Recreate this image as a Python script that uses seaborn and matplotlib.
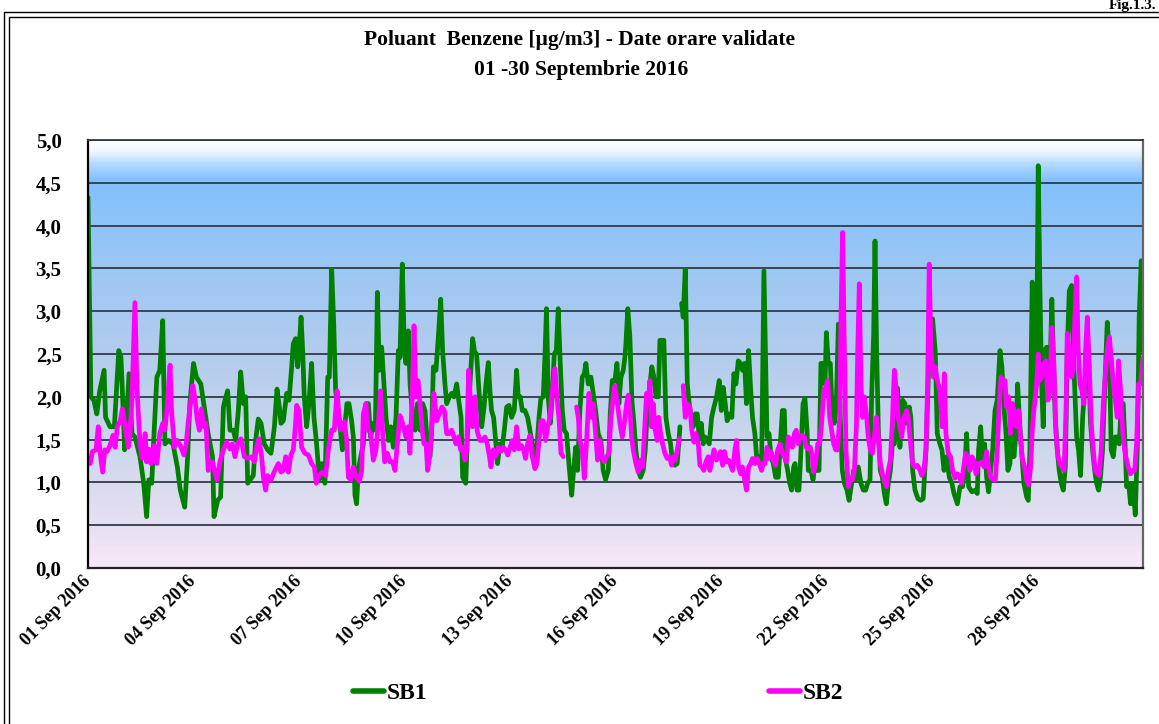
import numpy as np
import pandas as pd
import matplotlib
matplotlib.use("Agg")
import matplotlib.pyplot as plt
import matplotlib.dates as mdates
from matplotlib.colors import LinearSegmentedColormap
from matplotlib.lines import Line2D
import seaborn as sns

# ---------------- data ----------------
title_line1 = "Poluant  Benzene [µg/m3] - Date orare validate"
title_line2 = "01 -30 Septembrie 2016"
fig_label = "Fig.1.3."
series_names = ["SB1", "SB2"]
series_colors = ["#008000", "#FF00FF"]
start_date = "2016-09-01"
n_days = 30
tick_days = [1, 4, 7, 10, 13, 16, 19, 22, 25, 28]
y_ticks = [0.0, 0.5, 1.0, 1.5, 2.0, 2.5, 3.0, 3.5, 4.0, 4.5, 5.0]

# (hour since 01 Sep 00:00, µg/m3); None marks a gap in the record
sb1 = [
    (0, 4.33), (2, 2.0), (4, 1.96), (6, 1.80), (8, 2.07), (11, 2.31), (12, 1.76), (15, 1.65),
    (18, 1.65), (21, 2.54), (22.5, 2.46), (24, 1.84), (25, 1.38), (26, 1.65), (28, 2.27),
    (30, 1.57), (32, 1.53), (35.5, 1.30), (38, 0.99), (40, 0.60), (41.5, 1.03), (43.5, 0.99),
    (44.5, 1.38), (47, 2.23), (49, 2.31), (51, 2.89), (52.5, 1.45), (55, 1.49), (58, 1.45),
    (61, 1.18), (63, 0.91), (66, 0.71), (68, 1.30), (69.5, 1.92), (72, 2.39), (74, 2.23),
    (77, 2.15), (79, 1.92), (82, 1.57), (85, 1.30), (86, 0.60), (88.5, 0.79), (90.5, 0.83),
    (92.4, 1.88), (93.5, 1.96), (95.3, 2.07), (96.9, 1.61), (99.2, 1.61), (100.8, 1.49),
    (102.6, 1.84), (104.2, 2.29), (106, 1.92), (107.6, 2.0), (109, 0.99), (110.6, 1.03),
    (112.8, 1.08), (114.4, 1.49), (116.2, 1.74), (118.1, 1.69), (120.3, 1.45), (122.6, 1.38),
    (124.9, 1.34), (127.2, 1.65), (129, 2.09), (130.3, 1.92), (131.7, 1.69), (133.3, 1.72),
    (135.6, 2.04), (137.2, 1.96), (139, 2.35), (140.1, 2.62), (141.7, 2.68), (143.1, 2.35),
    (144, 2.54), (145.4, 2.93), (146.5, 2.54), (147.6, 2.0), (149.2, 1.65), (150.8, 1.92),
    (152.6, 2.39), (154.2, 1.76), (156, 1.45), (157.9, 1.03), (159.5, 1.22), (161.7, 0.99),
    (163.6, 2.23), (164.7, 2.23), (166.3, 3.49), (167.7, 2.85), (169, 2.07), (170.4, 1.88),
    (172, 1.65), (173.6, 1.38), (175.4, 1.69), (176.7, 1.92), (178.1, 1.92), (179.9, 1.72),
    (181.1, 1.53), (182.2, 0.85), (183.3, 0.75), (184.5, 1.14), (186.1, 1.30), (187.9, 1.45),
    (189.7, 1.92), (191.3, 1.92), (192.9, 1.53), (194.7, 1.69), (196.1, 1.61), (197.5, 3.22),
    (198.8, 2.31), (200.4, 2.58), (202, 2.15), (203.4, 1.76), (205, 1.49), (206.6, 1.65),
    (208.4, 1.41), (210.2, 1.76), (211.8, 2.54), (212.9, 2.46), (214.5, 3.55), (215.9, 2.54),
    (217, 2.39), (218.6, 2.77), (219.8, 2.15), (221.6, 1.76), (223.2, 1.61), (224.8, 1.92),
    (226.6, 1.61), (228.4, 1.92), (230, 1.84), (231.6, 1.45), (233.4, 1.30), (234.5, 1.57),
    (235.7, 2.35), (237.5, 2.31), (239.1, 2.70), (240.7, 3.14), (242, 2.54), (243.6, 2.15),
    (244.8, 1.92), (246.6, 2.0), (248.2, 2.04), (249.8, 2.0), (251.6, 2.15), (253, 1.96),
    (254.6, 1.76), (255.7, 1.06), (257.8, 0.99), (258.9, 1.53), (260.7, 2.15), (262.5, 2.68),
    (263.9, 2.52), (265.2, 2.50), (267.1, 2.0), (268.7, 1.65), (270.3, 1.88), (271.6, 2.15),
    (273.2, 2.40), (274.3, 2.07), (275.4, 1.84), (276.8, 1.76), (278.2, 1.49), (279.5, 1.22),
    (281.1, 1.45), (282.7, 1.41), (284.1, 1.61), (285.7, 1.88), (287.3, 1.90), (289.1, 1.76),
    (290.9, 1.84), (292.5, 2.31), (293.6, 2.0), (295, 2.0), (296.4, 1.84), (298.2, 1.84),
    (300, 1.76), (301.6, 1.61), (303.2, 1.45), (304.6, 1.22), (306.2, 1.38), (307.8, 1.76),
    (309.1, 1.98), (310.7, 2.0), (311.8, 2.46), (312.9, 3.03), (314.1, 2.0), (315.5, 1.69),
    (316.8, 2.0), (318.2, 2.50), (319.6, 2.54), (320.9, 3.03), (322.3, 2.39), (323.7, 1.84),
    (325, 1.61), (326.6, 1.57), (328.2, 1.22), (330.1, 0.85), (331.4, 1.14), (332.8, 1.41),
    (334.1, 1.14), (335.7, 1.84), (337.3, 2.23), (338.7, 2.27), (339.8, 2.39), (341.4, 2.15),
    (343.2, 2.23), (344.8, 2.04), (346.4, 1.84), (348.2, 1.57), (350, 1.49), (351.6, 1.14),
    (353.2, 1.03), (355.1, 1.14), (356.4, 1.80), (357.8, 2.19), (359.6, 2.19), (361, 2.39),
    (362.3, 1.92), (363.7, 2.23), (365.3, 2.31), (366.4, 2.46), (367.1, 2.62), (368.4, 3.03),
    (369.8, 2.70), (371.2, 1.96), (372.6, 1.69), (373.9, 1.38), (375.5, 1.14), (377.1, 1.06),
    (378.9, 1.14), (380.3, 1.38), (381.7, 1.84), (383.5, 2.15), (384.8, 2.35), (386.2, 2.23),
    (387.6, 2.0), (389.2, 2.0), (390.3, 2.66), (391.7, 2.66), (393, 2.66), (394.4, 1.76),
    (396, 1.57), (397.6, 1.45), (399, 1.22), (400.5, 1.20), (402.1, 1.22), (403.5, 1.53),
    (404, 1.65), None,
    (405.1, 3.09), (406.2, 2.93), (407.6, 3.49), (409, 2.15), (410.3, 1.92), (411.7, 1.76),
    (413, 1.65), (414.4, 1.80), (415.8, 1.80), (417.1, 1.53), (418.5, 1.69), (419.9, 1.45),
    (421.2, 1.53), (422.6, 1.49), (424, 1.45), (425.6, 1.76), (427.2, 1.88), (429, 2.0),
    (430.8, 2.19), (432.2, 1.84), (433.5, 2.11), (434.9, 1.92), (436.2, 1.72), (438.1, 1.80),
    (439.4, 1.76), (440.8, 2.27), (442.2, 2.15), (443.8, 2.42), (445.4, 2.39), (446.7, 2.31),
    (448.1, 2.39), (449.4, 1.92), (450.8, 2.54), (452.2, 2.10), (453.5, 1.76), (455.1, 1.57),
    (456.3, 1.30), (458.1, 1.30), (459.7, 1.22), (461.3, 3.47), (463.4, 1.53), (464.8, 1.57),
    (466.1, 1.30), (467.7, 1.22), (469.3, 1.06), (471.1, 1.06), (472.5, 1.45), (473.9, 1.84),
    (475.2, 1.84), (476.1, 1.26), (477.5, 1.14), (478.9, 0.99), (480.2, 0.91), (481.6, 1.18),
    (482.5, 1.22), (483.9, 0.91), (485.2, 0.91), (486.6, 1.38), (488, 1.92), (489.3, 1.98),
    (490.7, 1.61), (491.6, 1.14), (493.4, 1.14), (494.8, 1.03), (496.1, 1.22), (497.5, 1.14),
    (498.9, 1.14), (500.2, 2.39), (501.6, 2.39), (503, 2.15), (503.9, 2.75), (505.2, 2.39),
    (506.6, 2.39), (508, 1.76), (509.3, 1.69), (510.7, 1.92), (512.1, 2.85), (513.4, 1.76),
    (514.8, 1.14), (516.2, 0.99), (518, 0.91), (519.4, 0.79), (521.2, 0.99), (522.5, 1.14),
    (523.9, 1.03), (525.7, 1.18), (527.5, 0.99), (529.1, 0.91), (530.7, 0.91), (532.1, 0.99),
    (533.7, 1.03), (534.8, 2.0), (536.2, 2.74), (537.1, 3.82), (538.2, 2.54), (539.4, 1.61),
    (540.7, 1.14), (542.1, 1.06), (543.5, 0.87), (544.8, 0.75), (546.2, 0.99), (547.6, 1.14),
    (548.9, 1.45), (550.3, 1.45), (551.9, 1.65), (552.5, 2.10), (554.1, 1.41), (556, 1.96),
    (557.5, 1.92), (558.7, 1.69), (560.5, 1.88), (561.6, 1.76), (562.8, 1.14), (564.4, 0.91),
    (566.4, 0.81), (568.2, 0.79), (570, 0.81), (571.9, 1.38), (574.1, 2.54), (576.4, 2.91),
    (578.2, 2.54), (579.6, 1.57), (581.4, 1.45), (582.8, 1.38), (584.2, 1.14), (586, 1.30),
    (587.8, 1.06), (589.6, 0.99), (591, 0.87), (593.3, 0.75), (595.1, 0.95), (596.9, 0.95),
    (598.3, 1.14), (599.6, 1.57), (601, 0.95), (603.3, 0.89), (605.5, 0.91), (606.9, 0.87),
    (607.8, 1.38), (609.2, 1.65), (610.5, 1.26), (611.9, 1.45), (613.3, 1.06), (614.6, 0.89),
    (616, 1.14), (617.4, 1.38), (619, 1.84), (620.5, 1.96), (622.4, 2.54), (623.7, 2.35),
    (625.1, 1.88), (626.5, 1.57), (627.8, 1.14), (629.2, 1.22), (630.6, 1.92), (631.9, 1.30),
    (633.3, 1.57), (634.4, 2.15), (636, 1.65), (637.4, 1.30), (638.7, 0.99), (640.6, 0.83),
    (641.7, 0.79), (642.8, 1.38), (644.4, 3.34), (646, 1.92), (647.4, 2.54), (648.5, 4.70),
    (649.6, 3.32), (650.8, 2.15), (651.9, 1.65), (653.1, 2.54), (654.2, 2.58), (655.3, 2.23),
    (656, 2.07), (656.9, 2.54), (657.8, 3.14), (658.7, 2.54), (660.1, 1.76), (661.5, 1.38),
    (662.8, 1.14), (664.2, 0.99), (665.6, 0.91), (667, 1.18), (668.3, 2.54), (669.7, 3.24),
    (671.3, 3.30), (672.4, 2.54), (673.5, 2.07), (674.7, 1.53), (676, 1.38), (677.4, 1.08),
    (678.8, 1.76), (680.1, 2.07), (681.5, 2.54), (682.9, 2.39), (684.2, 1.69), (685.6, 1.38),
    (687, 1.14), (688.3, 0.99), (689.7, 0.91), (691, 1.06), (692.4, 1.38), (694, 2.15),
    (695.6, 2.87), (697, 2.54), (698.3, 1.38), (699.7, 1.30), (701.1, 1.53), (702.4, 1.53),
    (703.8, 1.45), (705.2, 1.92), (706.5, 1.92), (707.9, 1.38), (708.8, 0.95), (710.2, 0.99),
    (711.5, 0.75), (713.3, 0.99), (714.7, 0.62), (716.1, 1.38), (717.4, 2.93), (718.8, 3.59),
    (719.4, 2.54), (720, 2.70),
]

sb2 = [
    (0, 1.26), (1.5, 1.22), (3, 1.36), (5.5, 1.38), (7, 1.65), (8, 1.38), (10, 1.12),
    (11.5, 1.38), (13, 1.36), (15, 1.43), (17, 1.55), (18.5, 1.41), (20, 1.65), (22, 1.72),
    (23.5, 1.86), (25, 1.69), (27.5, 1.41), (28.5, 1.53), (30, 1.96), (32, 3.10), (33.5, 2.07),
    (35.5, 1.45), (37, 1.28), (39, 1.57), (40, 1.24), (41.5, 1.39), (43, 1.22), (45, 1.43),
    (47, 1.22), (49, 1.57), (51, 1.69), (52.5, 1.61), (54, 1.88), (56, 2.37), (57, 1.84),
    (59, 1.41), (61, 1.49), (63, 1.43), (65.5, 1.32), (67, 1.45), (68.5, 1.72), (70, 1.92),
    (71.5, 2.13), (73, 1.98), (74.5, 1.74), (76, 1.61), (77.5, 1.86), (79, 1.65), (80.5, 1.69),
    (82, 1.14), (83.5, 1.24), (85, 1.24), (86.5, 1.12), (88, 1.03), (90, 1.24), (92.4, 1.38),
    (94.6, 1.47), (96.9, 1.39), (98.5, 1.45), (100.3, 1.30), (102.1, 1.45), (104.4, 1.51),
    (106.7, 1.30), (109, 1.28), (111.7, 1.30), (113.5, 1.24), (115.1, 1.41), (116.7, 1.51),
    (118.5, 1.30), (119.7, 1.06), (121.2, 0.91), (122.6, 1.08), (124.9, 1.03), (126.5, 1.10),
    (128.1, 1.16), (129.9, 1.22), (131.7, 1.12), (133.3, 1.14), (134.9, 1.30), (136.7, 1.12),
    (138.5, 1.32), (140.1, 1.38), (141.3, 1.61), (142.4, 1.90), (144, 1.84), (145.8, 1.41),
    (148, 1.34), (150.4, 1.32), (152.6, 1.22), (154.5, 1.18), (155.8, 0.99), (157.6, 1.08),
    (159.9, 1.12), (162.2, 1.08), (164, 1.38), (166.3, 1.61), (168.1, 1.61), (170, 2.07),
    (171.3, 1.76), (172.7, 1.61), (175, 1.71), (176.5, 1.49), (177.7, 1.06), (179.5, 1.03),
    (181.1, 1.18), (183.3, 1.06), (185.2, 1.01), (186.8, 1.14), (187.9, 1.80), (189.7, 1.92),
    (191.3, 1.61), (192.9, 1.57), (194.7, 1.26), (196.5, 1.38), (198.1, 1.69), (199.7, 2.07),
    (201.1, 1.57), (202.5, 1.24), (204.3, 1.34), (206.1, 1.24), (207.9, 1.24), (209.5, 1.14),
    (211.1, 1.45), (212.9, 1.78), (214.7, 1.69), (217, 1.53), (218.6, 1.65), (219.7, 1.34),
    (221.1, 1.92), (222.5, 2.83), (223.8, 2.0), (225.2, 2.19), (226.6, 1.92), (228.1, 1.61),
    (229.3, 1.45), (230.7, 1.45), (231.8, 1.14), (233.4, 1.34), (234.8, 1.69), (236.1, 2.04),
    (237.9, 1.72), (239.7, 1.80), (241.6, 1.88), (243.2, 1.84), (244.8, 1.57), (246.6, 1.57),
    (248.2, 1.61), (249.8, 1.53), (251.1, 1.45), (252.7, 1.53), (254.3, 1.38), (255.7, 1.41),
    (257.3, 1.26), (258.4, 1.38), (259.8, 2.31), (261.1, 1.92), (262.5, 1.65), (264.1, 2.0),
    (265.7, 1.59), (267.5, 1.49), (269.3, 1.49), (270.9, 1.53), (272.5, 1.45), (274, 1.30),
    (275, 1.18), (276.6, 1.38), (278.2, 1.30), (280, 1.41), (281.6, 1.36), (283.4, 1.41),
    (285, 1.38), (286.4, 1.32), (288, 1.41), (289.6, 1.49), (290.9, 1.38), (292.5, 1.65),
    (294.1, 1.39), (295.9, 1.43), (297.3, 1.38), (298.6, 1.28), (300, 1.45), (301.6, 1.55),
    (303.2, 1.30), (305, 1.16), (306.4, 1.22), (307.8, 1.49), (309.1, 1.72), (310.7, 1.72),
    (312.3, 1.49), (313.7, 1.65), (315.3, 1.76), (316.9, 2.07), (318.7, 2.33), (320, 2.0),
    (321.4, 1.76), (322.8, 1.34), (324.4, 1.30), None,
    (333.4, 1.88), (334.6, 1.76), (335.7, 1.49), (337.3, 1.38), (338.7, 1.05), (340.3, 1.49),
    (341.9, 2.04), (343.2, 1.76), (344.8, 1.92), (346.4, 1.57), (347.8, 1.26), (349.4, 1.49),
    (350.5, 1.30), (352.3, 1.24), (353.9, 1.30), (355.5, 1.34), (356.9, 1.76), (358.5, 2.0),
    (359.6, 2.13), (361.4, 1.92), (363, 1.69), (364.6, 1.53), (366, 1.69), (367.6, 1.92),
    (368.7, 2.02), (369.9, 1.84), (371, 1.53), (372.1, 1.38), (373.9, 1.22), (375.5, 1.12),
    (377.1, 1.26), (378.5, 1.18), (380.1, 1.69), (381.2, 2.04), (382.3, 1.92), (383.5, 2.19),
    (384.6, 1.65), (385.7, 1.92), (387.1, 1.61), (388.5, 1.49), (389.4, 1.76), (390.8, 1.57),
    (392.1, 1.45), (393.7, 1.34), (395.3, 1.28), (396.7, 1.30), (398.3, 1.20), (399.4, 1.30),
    (400.8, 1.26), (402.1, 1.38), (403.5, 1.51), None,
    (406.2, 2.13), (407.6, 1.76), (409, 1.92), (410.8, 1.88), (412.1, 1.61), (413.5, 1.47),
    (414.9, 1.57), (416.5, 1.45), (417.6, 1.20), (419, 1.18), (420.3, 1.14), (421.7, 1.24),
    (423.3, 1.30), (424.4, 1.14), (425.8, 1.26), (427.2, 1.38), (429, 1.26), (430.3, 1.30),
    (431.7, 1.36), (433.1, 1.20), (434.4, 1.36), (435.8, 1.24), (437.2, 1.26), (438.5, 1.20),
    (439.9, 1.14), (441.5, 1.38), (442.6, 1.49), (444, 1.18), (445.4, 1.10), (446.7, 1.18),
    (448.1, 1.03), (449.4, 0.91), (450.8, 1.18), (452.2, 1.22), (453.5, 1.28), (455.1, 1.22),
    (456.7, 1.28), (458.1, 1.22), (459.7, 1.14), (460.8, 1.22), (462, 1.22), (463.4, 1.41),
    (464.8, 1.28), (466.1, 1.36), (467.7, 1.26), (469.3, 1.20), (470.7, 1.38), (472.3, 1.45),
    (473.9, 1.34), (475.2, 1.30), (476.6, 1.24), (478, 1.53), (479.3, 1.49), (480.7, 1.41),
    (482.1, 1.57), (483.4, 1.61), (484.8, 1.45), (486.1, 1.53), (487.5, 1.55), (488.9, 1.53),
    (490.2, 1.41), (491.6, 1.39), (493, 1.41), (494.3, 1.30), (495.2, 1.12), (496.6, 1.22),
    (498, 1.45), (499.3, 1.45), (500.7, 1.69), (502.1, 2.07), (503.4, 2.11), (504.8, 2.19),
    (506.2, 1.76), (507.5, 1.61), (508.9, 1.45), (510.3, 1.38), (511.6, 1.38), (513, 1.76),
    (513.9, 2.93), (515, 3.92), (516.2, 2.54), (517.3, 1.38), (518.9, 0.95), (520.3, 1.03),
    (521.6, 1.03), (523, 1.14), (524.4, 1.65), (525.3, 2.54), (526.4, 3.32), (527.5, 2.15),
    (528.7, 1.76), (529.8, 2.0), (531.2, 1.80), (532.5, 1.53), (533.9, 1.38), (535.3, 1.34),
    (536.6, 1.53), (538, 1.76), (539.4, 1.53), (540.7, 1.22), (542.1, 1.10), (543.5, 1.03),
    (544.8, 0.95), (546.2, 1.14), (547.6, 1.26), (548.9, 1.69), (550.3, 2.31), (551.7, 2.07),
    (553, 1.76), (554.1, 1.65), (555.3, 1.53), (556.9, 1.76), (558.7, 1.84), (559.8, 1.76),
    (561.4, 1.45), (562.8, 1.22), (564.4, 1.18), (566, 1.20), (567.8, 1.14), (569.1, 1.08),
    (570.5, 1.14), (571.9, 1.38), (573, 2.15), (574.1, 3.55), (575.3, 2.54), (576.9, 2.23),
    (578.2, 2.35), (579.6, 2.19), (581.4, 2.07), (583, 1.65), (584.4, 2.27), (585.5, 1.57),
    (587.1, 1.34), (588.7, 1.30), (590.1, 1.14), (591.7, 1.05), (593.3, 1.10), (594.6, 1.08),
    (596.2, 0.99), (597.3, 1.14), (598.9, 1.34), (600.3, 1.30), (601.9, 1.14), (603.3, 1.30),
    (604.6, 1.26), (606, 1.10), (607.4, 1.22), (608.7, 1.22), (610.1, 1.24), (611.5, 1.18),
    (613.3, 1.36), (614.6, 1.18), (616, 1.06), (617.9, 1.03), (619.2, 1.03), (620.6, 1.38),
    (621.9, 1.92), (623.1, 2.23), (624.2, 2.15), (625.8, 2.19), (626.9, 1.88), (628.3, 2.0),
    (629.7, 1.57), (631, 1.92), (632.4, 1.80), (633.7, 1.65), (635.1, 1.84), (636.5, 1.49),
    (637.8, 1.26), (639.2, 1.18), (640.6, 1.03), (641.9, 0.97), (643.3, 1.18), (644.7, 1.69),
    (646, 1.92), (647.4, 2.15), (648.5, 2.50), (649.6, 2.19), (650.8, 2.23), (652.4, 2.39),
    (653.7, 2.42), (655.1, 1.96), (656.5, 2.07), (657.8, 2.81), (659.2, 2.39), (660.6, 1.57),
    (662, 1.30), (663.3, 1.22), (664.7, 1.18), (666.1, 1.14), (667.4, 1.76), (668.3, 2.74),
    (669.7, 2.54), (671.3, 2.23), (672.4, 2.33), (673.5, 2.93), (674.7, 3.40), (675.8, 2.54),
    (677, 2.15), (678.3, 2.07), (679.7, 1.92), (680.8, 2.54), (682, 2.93), (683.3, 2.39),
    (684.7, 1.69), (686, 1.38), (687.4, 1.14), (688.8, 1.10), (690.1, 1.08), (691.5, 1.38),
    (692.9, 1.92), (694.2, 2.23), (695.6, 2.54), (697, 2.70), (698.3, 2.46), (699.7, 2.15),
    (701.1, 1.96), (702.4, 1.76), (703.3, 2.42), (704.7, 2.07), (706.1, 1.61), (707.4, 1.38),
    (708.8, 1.26), (710.2, 1.16), (711.5, 1.10), (712.9, 1.14), (714.3, 1.14), (715.6, 1.45),
    (717, 2.15), (718.4, 2.15), (720, 2.46),
]


def to_frame(points, name):
    rows, seg = [], 0
    for p in points:
        if p is None:
            seg += 1
            continue
        rows.append((p[0], p[1], seg))
    df = pd.DataFrame(rows, columns=["hour", "value", "segment"])
    df["time"] = pd.Timestamp(start_date) + pd.to_timedelta(df["hour"], unit="h")
    df["series"] = name
    return df


frames = [to_frame(sb1, series_names[0]), to_frame(sb2, series_names[1])]

# ---------------- style ----------------
sns.set_theme(style="white")
plt.rcParams["font.family"] = ["Liberation Serif", "DejaVu Serif"]
plt.rcParams["font.weight"] = "bold"
plt.rcParams["text.color"] = "black"
plt.rcParams["xtick.color"] = "black"
plt.rcParams["ytick.color"] = "black"
plt.rcParams["xtick.labelcolor"] = "black"
plt.rcParams["ytick.labelcolor"] = "black"

W, H = 1159, 724
fig = plt.figure(figsize=(W / 100, H / 100), dpi=100)
fig.patch.set_facecolor("white")

L, R, T, B = 88, 1143, 140, 568
rect = [L / W, 1 - B / H, (R - L) / W, (B - T) / H]

# gradient background behind the plot area
bg = fig.add_axes(rect, zorder=0)
stops = [
    (0.00, "#F8E8F8"), (0.10, "#E6E0F2"), (0.30, "#CAD6EC"), (0.50, "#B3CCEE"),
    (0.70, "#9CC7F4"), (0.86, "#88C2FC"), (0.91, "#82C0FF"), (0.95, "#B8DCFF"),
    (0.975, "#EEF6FF"), (1.00, "#FFFFFF"),
]
cmap = LinearSegmentedColormap.from_list("bg", stops)
bg.imshow(np.linspace(0, 1, 600).reshape(-1, 1), aspect="auto", cmap=cmap,
          origin="lower", extent=[0, 1, 0, 1])
bg.set_axis_off()

ax = fig.add_axes(rect, zorder=1)
ax.set_facecolor("none")

for df, color in zip(frames, series_colors):
    sns.lineplot(data=df, x="time", y="value", units="segment", estimator=None,
                 sort=False, color=color, linewidth=3.4, ax=ax, legend=False)

t0 = pd.Timestamp(start_date)
ax.set_xlim(t0, t0 + pd.Timedelta(days=n_days))
ax.set_ylim(0, 5)
ax.set_xlabel("")
ax.set_ylabel("")

ax.set_yticks(y_ticks)
ax.set_yticklabels([f"{v:.1f}".replace(".", ",") for v in y_ticks],
                   fontsize=15, fontweight="bold", color="black")
ax.yaxis.grid(True, color="#333a44", linewidth=1.3)
ax.xaxis.grid(False)
ax.set_axisbelow(True)
ax.tick_params(axis="y", length=0, pad=19)

xticks = [t0 + pd.Timedelta(days=d - 1) for d in tick_days]
ax.set_xticks(xticks)
ax.set_xticklabels([t.strftime("%d %b %Y") for t in xticks], color="black")
ax.tick_params(axis="x", length=0, pad=8)
for lab in ax.get_xticklabels():
    lab.set_rotation(45)
    lab.set_ha("right")
    lab.set_va("center")
    lab.set_rotation_mode("anchor")
    lab.set_fontsize(13)
    lab.set_fontweight("bold")

for side, col, lw in [("left", "black", 1.6), ("bottom", "#222222", 1.6),
                      ("right", "#666666", 1.6), ("top", "#333a44", 1.3)]:
    ax.spines[side].set_visible(True)
    ax.spines[side].set_color(col)
    ax.spines[side].set_linewidth(lw)

# titles
fig.text(579 / W, 1 - 40 / H, title_line1, ha="center", va="center",
         fontsize=15.5, fontweight="bold", color="black")
fig.text(581 / W, 1 - 70 / H, title_line2, ha="center", va="center",
         fontsize=15.5, fontweight="bold", color="black")
fig.text(1156 / W, 1 - 9 / H, fig_label, ha="right", va="baseline",
         fontsize=11, fontweight="bold", color="black")

# double frame around the chart (left and top visible)
for off in (4, 9):
    fig.add_artist(Line2D([off / W, off / W], [-0.05, 1 - (off + 8) / H],
                          transform=fig.transFigure, color="black", lw=1.0))
    fig.add_artist(Line2D([off / W, 1.05], [1 - (off + 8) / H, 1 - (off + 8) / H],
                          transform=fig.transFigure, color="black", lw=1.0))

# legend
handles = [Line2D([], [], color=c, lw=4) for c in series_colors]
fig.legend(handles, series_names, loc="center", bbox_to_anchor=(0.516, 1 - 693 / H),
           ncol=2, frameon=False, handlelength=1.3, handletextpad=0.1,
           columnspacing=14.5, labelcolor="black",
           prop={"family": "Liberation Serif", "weight": "bold", "size": 17})

fig.savefig("out.png", dpi=100)
